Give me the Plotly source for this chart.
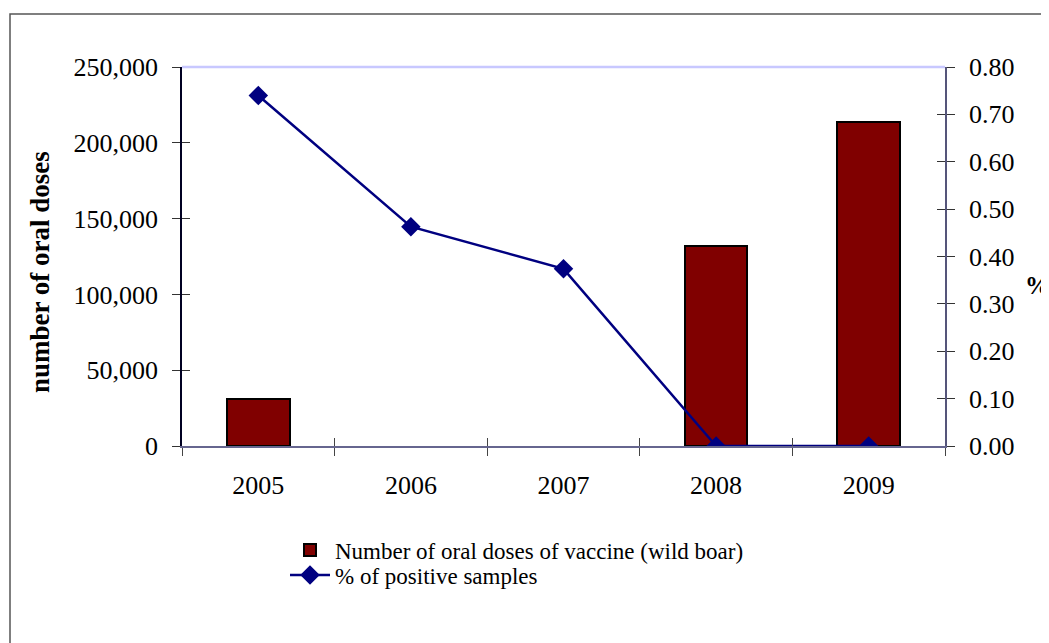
import plotly.graph_objects as go

years = ["2005", "2006", "2007", "2008", "2009"]
doses = [31000, None, None, 132000, 214000]
pct_positive = [0.74, 0.463, 0.374, 0.0, 0.0]

bar_name = "Number of oral doses of vaccine (wild boar)"
line_name = "% of positive samples"
left_title = "number of oral doses"
right_title = "%"

# page has an 8px body margin; work in page pixels and convert
OFF = 8
PAGE_W, PAGE_H = 1049, 643
W, H = PAGE_W - OFF, PAGE_H - OFF
PL, PR, PT, PB = 182, 945, 67, 446  # plot area in page pixels
L, T = PL - OFF, PT - OFF
R, B = PAGE_W - PR, PAGE_H - PB
pw, ph = PR - PL, PB - PT

def px_x(p):
    return (p - PL) / pw

def px_y(p):
    return (PB - p) / ph

FONT = "Liberation Serif, Times New Roman, serif"

fig = go.Figure()
fig.add_trace(go.Bar(
    x=years, y=doses, name=bar_name,
    marker=dict(color="#800000", line=dict(color="black", width=2)),
    width=0.41, xaxis="x", yaxis="y", legend="legend",
))
fig.add_trace(go.Scatter(
    x=years, y=pct_positive, name=line_name, mode="lines+markers",
    line=dict(color="#000080", width=2.5),
    marker=dict(symbol="diamond", size=15, color="#000080"),
    xaxis="x", yaxis="y2", legend="legend2",
))
# empty helper traces so the tick-only overlay axes get drawn
for xa, ya in (("x2", "y"), ("x", "y3"), ("x", "y4")):
    fig.add_trace(go.Scatter(x=[None], y=[None], xaxis=xa, yaxis=ya,
                             showlegend=False, hoverinfo="skip", mode="markers"))

n = len(years)
boundaries = [i + 0.5 for i in range(n - 1)]

leg_common = dict(
    xanchor="left", yanchor="middle",
    font=dict(family=FONT, size=23, color="black"),
    bgcolor="rgba(0,0,0,0)", itemwidth=40,
)

fig.update_layout(
    width=W, height=H,
    margin=dict(l=L, r=R, t=T, b=B, pad=0),
    paper_bgcolor="white", plot_bgcolor="white",
    font=dict(family=FONT, size=26, color="black"),
    showlegend=True,
    legend=dict(x=px_x(285), y=px_y(550), **leg_common),
    legend2=dict(x=px_x(285), y=px_y(575), **leg_common),
    bargap=0,
    xaxis=dict(
        type="category", categoryorder="array", categoryarray=years,
        range=[-0.5, n - 0.5],
        showline=True, linecolor="#66668f", linewidth=2,
        ticks="outside", tickson="boundaries", ticklen=8, tickcolor="#444",
        tickwidth=1, showgrid=False, zeroline=False,
        ticklabelstandoff=15,
        tickfont=dict(family=FONT, size=26),
    ),
    xaxis2=dict(
        overlaying="x", anchor="y", side="bottom", type="linear",
        range=[-0.5, n - 0.5],
        tickmode="array", tickvals=boundaries, ticks="inside", ticklen=8,
        tickcolor="#444", tickwidth=1, showticklabels=False,
        showline=False, showgrid=False, zeroline=False,
    ),
    yaxis=dict(
        range=[0, 250000], dtick=50000, tickformat=",",
        showline=True, linecolor="#000022", linewidth=1.5,
        ticks="outside", ticklen=8, tickcolor="#333", tickwidth=1,
        showgrid=False, zeroline=False, ticklabelstandoff=9,
        tickfont=dict(family=FONT, size=26),
    ),
    yaxis3=dict(
        overlaying="y", anchor="x", side="left",
        range=[0, 250000], dtick=50000,
        ticks="inside", ticklen=8, tickcolor="#333", tickwidth=1,
        showticklabels=False, showline=False, showgrid=False, zeroline=False,
    ),
    yaxis2=dict(
        overlaying="y", anchor="x", side="right",
        range=[0, 0.8], dtick=0.1, tickformat=".2f",
        showline=True, linecolor="#55557a", linewidth=1.5,
        ticks="outside", ticklen=8, tickcolor="#333", tickwidth=1,
        showgrid=False, zeroline=False, ticklabelstandoff=9,
        tickfont=dict(family=FONT, size=26),
    ),
    yaxis4=dict(
        overlaying="y", anchor="x", side="right",
        range=[0, 0.8], dtick=0.1,
        ticks="inside", ticklen=8, tickcolor="#333", tickwidth=1,
        showticklabels=False, showline=False, showgrid=False, zeroline=False,
    ),
)

fig.add_shape(type="line", xref="paper", yref="paper", x0=0, x1=1, y0=1, y1=1,
              line=dict(color="#c8c8ff", width=2.5), layer="below")
fig.add_shape(type="rect", xref="paper", yref="paper",
              x0=px_x(10), x1=px_x(1070), y0=px_y(14), y1=px_y(680),
              line=dict(color="#555555", width=1.5), fillcolor="rgba(0,0,0,0)")

fig.add_annotation(text="<b>" + left_title + "</b>", xref="paper", yref="paper",
                   x=px_x(40), y=px_y(272), textangle=-90, showarrow=False,
                   font=dict(family=FONT, size=27, color="black"),
                   xanchor="center", yanchor="middle")
fig.add_annotation(text="<b>" + right_title + "</b>", xref="paper", yref="paper",
                   x=px_x(1023), y=px_y(285), showarrow=False,
                   font=dict(family=FONT, size=25, color="black"),
                   xanchor="left", yanchor="middle")

fig.write_html("out.html")
